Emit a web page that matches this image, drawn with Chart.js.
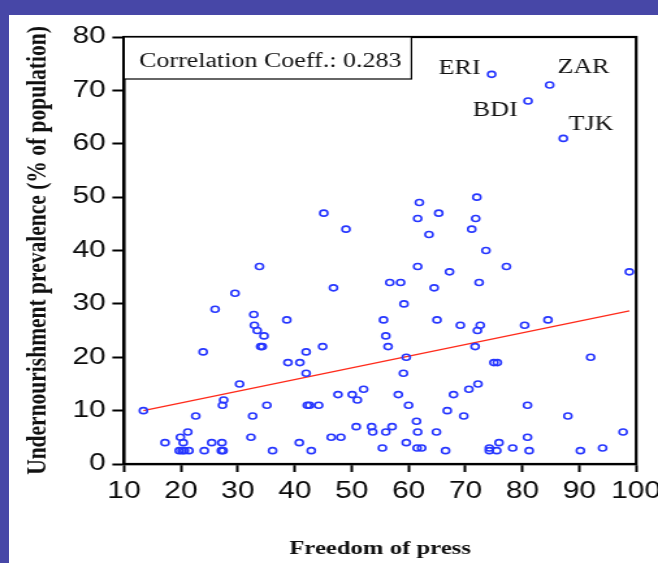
<!DOCTYPE html>
<html>
<head>
<meta charset="utf-8">
<script src="https://cdn.jsdelivr.net/npm/chart.js@4"></script>
<style>
    html, body { margin: 0; padding: 0; background: #fff; }
    body { width: 658px; height: 563px; position: relative; overflow: hidden; }
    #pressChart { position: absolute; left: 0; top: 0; }
    .band { position: absolute; background: #4747a7; }
    #bandTop { left: 0; top: 0; width: 658px; height: 15px; }
    #bandLeft { left: 0; top: 0; width: 9px; height: 563px; }
</style>
</head>
<body>
<!-- drawn narrow and stretched sideways, like the original figure -->
<canvas id="pressChart" width="506" height="563" style="width:658px;height:563px"></canvas>
<div class="band" id="bandTop"></div>
<div class="band" id="bandLeft"></div>
<script>
// === data ===
const pressFreedom = [
    13.4, 33.8, 29.5, 26.0, 46.8, 32.8, 32.9, 33.4, 34.6, 34.0, 34.3, 23.9,
    38.6, 42.0, 38.8, 40.9, 42.0, 44.9, 30.3, 27.5, 27.3, 22.6, 35.1, 32.6,
    47.6, 50.1, 51.0, 52.1, 42.2, 42.6, 44.2, 17.2, 19.9, 21.2, 20.4, 19.7,
    20.2, 20.6, 21.4, 24.1, 25.4, 27.2, 27.1, 27.4, 32.3, 36.1, 40.8, 42.9,
    46.4, 48.1, 50.8, 53.5, 53.7, 45.1, 49.0,
    73.6, 61.6, 77.2, 67.2, 98.8, 56.7, 58.6, 72.4, 64.5, 59.2, 55.6, 65.0,
    69.1, 72.6, 72.1, 80.4, 84.5, 56.0, 56.4, 71.7, 59.6, 75.0, 75.6, 92.0,
    59.1, 72.2, 70.6, 67.9, 58.2, 60.0, 80.9, 66.8, 69.7, 88.0, 61.4, 56.0,
    57.1, 61.6, 64.9, 97.7, 80.9, 59.6, 75.9, 55.4, 78.3, 94.1, 61.5, 62.3,
    66.5, 74.2, 74.2, 75.5, 81.2, 90.2,
    61.9, 72.0, 65.3, 61.6, 71.8, 63.6, 71.1
];
const undernourishment = [
    10, 37, 32, 29, 33, 28, 26, 25, 24, 22, 22, 21,
    27, 21, 19, 19, 17, 22, 15, 12, 11, 9, 11, 9,
    13, 13, 12, 14, 11, 11, 11, 4, 5, 6, 4, 2.5,
    2.5, 2.5, 2.5, 2.5, 4, 4, 2.5, 2.5, 5, 2.5, 4, 2.5,
    5, 5, 7, 7, 6, 47, 44,
    40, 37, 37, 36, 36, 34, 34, 34, 33, 30, 27, 27,
    26, 26, 25, 26, 27, 24, 22, 22, 20, 19, 19, 20,
    17, 15, 14, 13, 13, 11, 11, 10, 9, 9, 8, 6,
    7, 6, 6, 6, 5, 4, 4, 3, 3, 3, 3, 3,
    2.5, 3, 2.5, 2.5, 2.5, 2.5,
    49, 50, 47, 46, 46, 43, 44
];

// labelled outliers
const namedCodes = ["ERI", "ZAR", "BDI", "TJK"];
const namedX = [74.6, 84.8, 81.0, 87.2];
const namedY = [73, 71, 68, 61];

// fitted line, read at both ends
const fitX = [13.4, 98.8];
const fitY = [10.0, 28.7];

const xTicks = [10, 20, 30, 40, 50, 60, 70, 80, 90, 100];
const yTicks = [0, 10, 20, 30, 40, 50, 60, 70, 80];
const corrText = "Correlation Coeff.: 0.283";

document.addEventListener("DOMContentLoaded", () => {

    const canvas = document.getElementById("pressChart");
    const ctx = canvas.getContext("2d");

    const points = pressFreedom.map((x, i) => ({ x, y: undernourishment[i] }))
        .concat(namedX.map((x, i) => ({ x, y: namedY[i] })));
    const fitLine = fitX.map((x, i) => ({ x, y: fitY[i] }));

    // text offsets next to each labelled point: [dx, dy, align]
    const codeOffsets = {
        ERI: [-8.5, -6, "right"],
        ZAR: [6, -17, "left"],
        BDI: [-8, 10, "right"],
        TJK: [4, -14, "left"]
    };

    const framePlugin = {
        id: "frame",
        afterDatasetsDraw(chart) {
            const { ctx, chartArea: a, scales: { x, y } } = chart;
            ctx.save();
            ctx.strokeStyle = "#000";
            ctx.lineWidth = 2.2;
            ctx.strokeRect(a.left, a.top, a.right - a.left, a.bottom - a.top);

            // correlation box, top left corner
            ctx.fillStyle = "#fff";
            ctx.fillRect(a.left, a.top, 221, 42);
            ctx.lineWidth = 1.2;
            ctx.strokeRect(a.left, a.top, 221, 42);
            ctx.fillStyle = "#111";
            ctx.font = "20px 'Liberation Serif'";
            ctx.textAlign = "left";
            ctx.textBaseline = "alphabetic";
            ctx.fillText(corrText, a.left + 11.5, a.top + 29.7);

            // country codes
            ctx.textBaseline = "middle";
            namedCodes.forEach((code, i) => {
                const [dx, dy, align] = codeOffsets[code];
                ctx.textAlign = align;
                ctx.fillText(code,
                    x.getPixelForValue(namedX[i]) + dx,
                    y.getPixelForValue(namedY[i]) + dy);
            });
            ctx.restore();
        }
    };

    const tickFont = { family: "'Liberation Sans', Arial", size: 23 };
    const titleFont = { family: "'Liberation Serif', 'Times New Roman'", size: 21.5, weight: "bold" };

    new Chart(ctx, {
        type: "scatter",
        data: {
            datasets: [{
                data: points,
                pointStyle: "circle",
                pointRadius: 3,
                pointBorderWidth: 1.6,
                borderColor: "#2636ff",
                backgroundColor: "rgba(0,0,0,0)",
                order: 1
            }, {
                type: "line",
                data: fitLine,
                borderColor: "#ff2a1a",
                borderWidth: 1.3,
                pointRadius: 0,
                fill: false,
                order: 2
            }]
        },
        options: {
            responsive: false,
            animation: false,
            layout: { padding: { top: 37, right: 16.8, left: 0, bottom: 0 } },
            plugins: {
                legend: { display: false },
                tooltip: { enabled: false }
            },
            scales: {
                x: {
                    type: "linear",
                    min: 10,
                    max: 100,
                    afterBuildTicks: s => { s.ticks = xTicks.map(v => ({ value: v })); },
                    afterFit: s => {
                        s.height = 99;
                        s.paddingLeft = 0;
                        s.paddingRight = 0;
                    },
                    ticks: { font: tickFont, color: "#0a0a0a", padding: 6, maxRotation: 0 },
                    grid: {
                        drawOnChartArea: false,
                        drawTicks: true,
                        tickLength: 8,
                        tickWidth: 2,
                        tickColor: "#000"
                    },
                    border: { display: true, color: "#000", width: 2.2 },
                    title: {
                        display: true,
                        text: "Freedom of press",
                        font: { ...titleFont, size: 19 },
                        color: "#111",
                        padding: { top: 0, bottom: 3 }
                    }
                },
                y: {
                    min: 0,
                    max: 80,
                    afterBuildTicks: s => { s.ticks = yTicks.map(v => ({ value: v })); },
                    afterFit: s => {
                        s.width = 95.4;
                        s.paddingTop = 0;
                        s.paddingBottom = 0;
                    },
                    ticks: { font: tickFont, color: "#0a0a0a", padding: 5 },
                    grid: {
                        drawOnChartArea: false,
                        drawTicks: true,
                        tickLength: 9,
                        tickWidth: 2,
                        tickColor: "#000"
                    },
                    border: { display: true, color: "#000", width: 2.2 },
                    title: {
                        display: true,
                        text: "Undernourishment prevalence (% of population)",
                        font: titleFont,
                        color: "#111",
                        padding: { top: 17, bottom: 0 }
                    }
                }
            }
        },
        plugins: [framePlugin]
    });
});
</script>
</body>
</html>
